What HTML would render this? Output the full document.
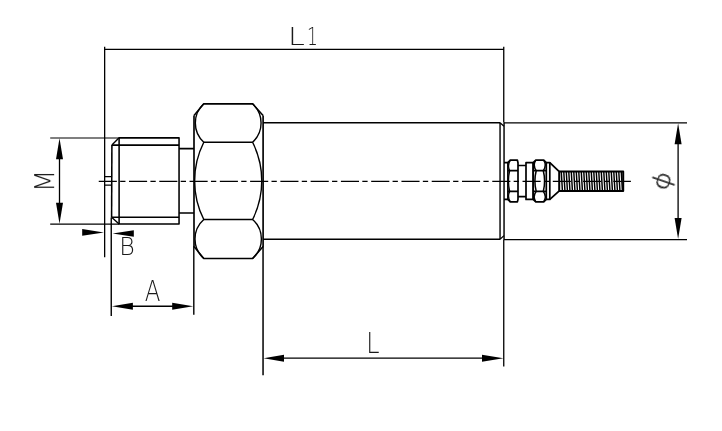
<!DOCTYPE html>
<html><head><meta charset="utf-8"><title>Dimension drawing</title>
<style>
html,body{margin:0;padding:0;background:#fff;}
body{width:722px;height:431px;overflow:hidden;font-family:"Liberation Sans",sans-serif;}
svg{display:block;}
</style></head>
<body>
<svg width="722" height="431" viewBox="0 0 722 431">
<rect width="722" height="431" fill="#fff"/>
<g stroke="#000" stroke-width="1.3" fill="none">
<path d="M104.65 49.4H504"/>
<path d="M104.65 46.7V257.3"/>
<path d="M503.75 46.7V122.5M503.75 239.2V366.5"/>
<path d="M50.2 138H118.5" stroke-width="1.15"/>
<path d="M50.2 224.15H119"/>
<path d="M59.5 150V212"/>
<path d="M111.25 217.5V316" stroke-width="1.4"/>
<path d="M193.8 246V314.8" stroke-width="1.4"/>
<path d="M263.05 246V375.2" stroke-width="1.5"/>
<path d="M125 306.25H180"/>
<path d="M275 358.2H492"/>
<path d="M504 122.85H687" stroke-width="1.2"/>
<path d="M504 239.55H687" stroke-width="1.2"/>
<path d="M678.1 135V227"/>
</g>
<g fill="#000" stroke="none">
<polygon points="59.50,138.30 63.00,159.30 56.00,159.30"/>
<polygon points="59.50,223.80 56.00,202.80 63.00,202.80"/>
<polygon points="103.90,232.40 82.20,235.75 82.20,229.05"/>
<polygon points="112.60,233.50 133.80,230.15 133.80,236.85"/>
<polygon points="111.90,306.25 132.90,302.75 132.90,309.75"/>
<polygon points="193.20,306.25 172.20,309.75 172.20,302.75"/>
<polygon points="263.60,358.20 284.00,354.70 284.00,361.70"/>
<polygon points="503.40,358.20 482.00,361.70 482.00,354.70"/>
<polygon points="678.10,123.30 681.60,144.30 674.60,144.30"/>
<polygon points="678.10,239.10 674.60,218.10 681.60,218.10"/>
</g>
<path d="M98.75 181.35H630.9" stroke="#000" stroke-width="1.25" fill="none" stroke-dasharray="18.1 3.3 5.3 3.57"/>
<g stroke="#000" stroke-width="1.55" fill="none" stroke-linejoin="round" stroke-linecap="butt">
<path d="M119.1 137.85H179.05V224.05H119.1Z"/>
<path d="M111.9 145.1H179.05M111.6 217.2H179.05"/>
<path d="M111.9 145.1L111.6 217.2"/>
<path d="M111.9 145.1L119.1 137.85M111.6 217.2L119.1 224.05" stroke-width="1.4"/>
<path d="M111.9 176.7H104.65M111.9 185.2H104.65" stroke-width="1.2"/>
<path d="M179.05 148.6H194M179.05 213.05H194"/>
<path d="M194 115.4V246.5M263.1 115.4V246.5" stroke-width="1.65"/>
<path d="M194 115.4L203.8 103.85H252.6L263.1 115.4"/>
<path d="M194 246.5L203.8 258.5H252.6L263.1 246.5"/>
<path d="M203.8 142.25H252.6M203.8 219.5H252.6"/>
<path d="M203.8 103.85A26 26 0 0 0 203.8 142.25A86 86 0 0 0 203.8 219.5A26 26 0 0 0 203.8 258.5" stroke-width="1.4"/>
<path d="M252.6 103.85A26 26 0 0 1 252.6 142.25A86 86 0 0 1 252.6 219.5A26 26 0 0 1 252.6 258.5" stroke-width="1.4"/>
<path d="M263.1 122.7H500.05M500.05 239.2H263.1"/><path d="M500.05 122.7V239.2" stroke-width="1.4"/>
<path d="M504.05 122.6V239.3" stroke-width="1.45"/>
<path d="M500.05 122.7L504 126.3M500.05 239.2L504 235.6" stroke-width="1.2"/>
</g>
<g stroke="#000" stroke-width="1.7" fill="none" stroke-linejoin="round">
<path d="M504 162.7H508M504 199.4H508"/>
<path d="M507.9 162.7L510.29999999999995 160.2H517.4L518.0 162.7V199.4L517.4 201.9H510.29999999999995L507.9 199.4Z"/><path d="M507.9 170.7H518.0M507.9 191.4H518.0"/><path d="M510.29999999999995 160.2Q507.09999999999997 165.45 509.7 170.7Q507.29999999999995 181.0 509.7 191.4Q507.09999999999997 196.65 510.29999999999995 201.9" stroke-width="1.25"/>
<path d="M518 165.5H526M518 196.6H526"/>
<path d="M526 162.7H533.2V199.4H526Z"/>
<path d="M533.2 162.7L535.8000000000001 160.2H543.6999999999999L546.3 162.7V199.4L543.6999999999999 201.9H535.8000000000001L533.2 199.4Z"/><path d="M533.2 170.7H546.3M533.2 191.4H546.3"/><path d="M535.8000000000001 160.2Q532.4000000000001 165.45 536.2 170.7Q533.6 181.0 536.2 191.4Q532.4000000000001 196.65 535.8000000000001 201.9M543.6999999999999 160.2Q547.0999999999999 165.45 543.3 170.7Q545.9 181.0 543.3 191.4Q547.0999999999999 196.65 543.6999999999999 201.9" stroke-width="1.5"/>
<path d="M546.3 162.7H549.8V199.4H546.3"/>
<path d="M549.8 162.7L559 171.3M549.8 199.4L559 191.1" stroke-width="1.8"/>
<path d="M559.2 171.5H623.2V190.9H559.2Z" stroke-width="2.0"/>
</g>
<path d="M561.30 172L562.40 190.4M563.80 172L564.90 190.4M566.30 172L567.40 190.4M568.80 172L569.90 190.4M571.30 172L572.40 190.4M573.80 172L574.90 190.4M576.30 172L577.40 190.4M578.80 172L579.90 190.4M581.30 172L582.40 190.4M583.80 172L584.90 190.4M586.30 172L587.40 190.4M588.80 172L589.90 190.4M591.30 172L592.40 190.4M593.80 172L594.90 190.4M596.30 172L597.40 190.4M598.80 172L599.90 190.4M601.30 172L602.40 190.4M603.80 172L604.90 190.4M606.30 172L607.40 190.4M608.80 172L609.90 190.4M611.30 172L612.40 190.4M613.80 172L614.90 190.4M616.30 172L617.40 190.4M618.80 172L619.90 190.4M621.30 172L622.40 190.4" stroke="#000" stroke-width="1.45" fill="none"/>
<g font-family="'DejaVu Sans Light','DejaVu Sans','Liberation Sans',sans-serif" font-weight="200" font-size="20" fill="#1a1a1a" opacity="0.999">
<text transform="matrix(1.5106 0 0 1.2620 288.111 45.400)"><tspan x="0">L</tspan><tspan x="12.585" textLength="7.198" lengthAdjust="spacingAndGlyphs">1</tspan></text>
<text transform="matrix(1.1887 0 0 1.3923 366.197 353.300)">L</text>
<text transform="matrix(1.1512 0 0 1.3786 144.714 300.900)">A</text>
<text transform="matrix(1.1856 0 0 1.2003 119.283 254.800)">B</text>
<text transform="matrix(0 -1.2835 1.3580 0 54.100 192.023)">M</text>
<text transform="translate(663.25 181.2) rotate(-71) scale(1.4200 1.1500) translate(-6.600 5.460)" stroke="#111" stroke-width="0.3">ϕ</text>
</g>
</svg>
</body></html>
